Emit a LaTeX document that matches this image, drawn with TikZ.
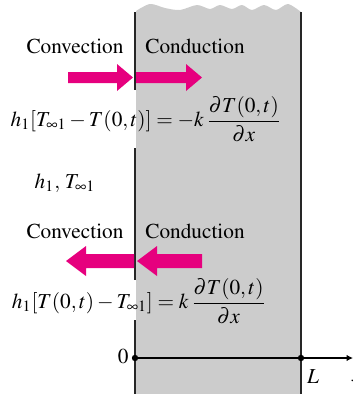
\documentclass[tikz,border=0pt]{standalone}
\usepackage{amsmath,amssymb}
\usepackage[T1]{fontenc}
\usepackage{mathptmx}
\usepackage{tikz}
\usetikzlibrary{arrows.meta}

\definecolor{fluxpink}{RGB}{230,0,126}
\definecolor{slabgray}{RGB}{204,204,204}

\begin{document}
\begin{tikzpicture}[
        x=0.47pt, y=-0.47pt,
        border/.style={line width=0.6pt, black!85},
        flux/.style={fill=fluxpink, draw=none},
        labeltext/.style={inner sep=0pt, font=\fontencoding{T1}\fontfamily{ptm}\selectfont\normalsize},
        axis/.style={line width=0.5pt, black, -{Latex[length=3pt,width=3pt]}},
        dot/.style={circle, fill=black, inner sep=0pt, minimum size=3pt}
    ]
    \useasboundingbox (0,0) rectangle (353,394);

    % --- Slab with wavy top ---
    \fill[slabgray] (136,394) -- (136,11)
        -- plot[smooth] coordinates {(136,11) (150,4) (165,8) (180,10) (197,5) (210,9) (220,5)
            (232,9) (242,5) (252,10) (264,5) (276,10) (288,4) (301,12)}
        -- (301,394) -- cycle;
    \draw[border] (135,12) -- (135,90);
    \draw[border] (135,148) -- (135,280);
    \draw[border] (135,320) -- (135,394);
    \draw[border] (301,12) -- (301,394);

    % --- Upper case: heat into the slab ---
    \node[labeltext] (convA) at (75,46) {Convection};
    \node[labeltext] (condA) at (195,46) {Conduction};
    \foreach \xa/\xb in {68/133, 136/202} {
        \fill[flux] (\xa,72) -- (\xb-16,72) -- (\xb-16,64) -- (\xb,77.5)
            -- (\xb-16,91) -- (\xb-16,83) -- (\xa,83) -- cycle;
    }
    \node[labeltext] (balA) at (146,119)
        {$h_1[T_{\infty 1} - T(0, t)] = -k\,\dfrac{\partial T(0, t)}{\partial x}$};

    \node[labeltext] (fluid) at (65,183) {$h_1,\, T_{\infty 1}$};

    % --- Lower case: heat out of the slab ---
    \node[labeltext] (convB) at (75,231) {Convection};
    \node[labeltext] (condB) at (195,231) {Conduction};
    \foreach \xa/\xb in {66/134, 137/202} {
        \fill[flux] (\xa,261) -- (\xa+20,246) -- (\xa+20,254) -- (\xb,254)
            -- (\xb,268) -- (\xa+20,268) -- (\xa+20,276) -- cycle;
    }
    \node[labeltext] (balB) at (139,301)
        {$h_1[T(0, t) - T_{\infty 1}] = k\,\dfrac{\partial T(0, t)}{\partial x}$};

    % --- x axis ---
    \coordinate (origin) at (135,358);
    \coordinate (slabend) at (301,358);
    \coordinate (xend) at (353,358);
    \draw[axis] (origin) -- (xend);
    \node[dot] (dotO) at (origin) {};
    \node[dot] (dotL) at (slabend) {};
    \node[labeltext, anchor=east] (zero) at (129,356) {0};
    \node[labeltext] (lenL) at (313,377) {$L$};
    \node[labeltext] (xlab) at (357,377) {$x$};
\end{tikzpicture}
\end{document}
